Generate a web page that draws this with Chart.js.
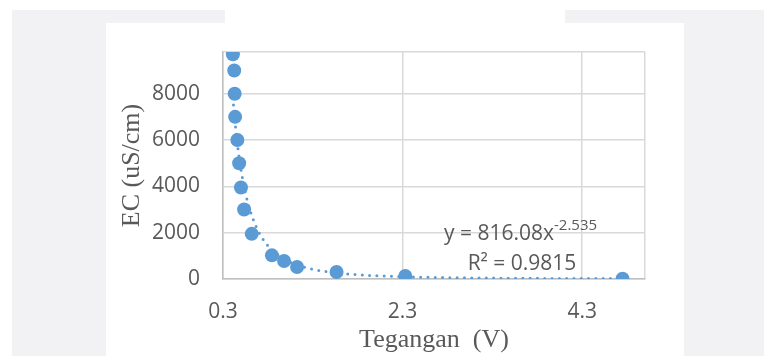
<!DOCTYPE html>
<html><head><meta charset="utf-8">
<script src="https://cdn.jsdelivr.net/npm/chart.js@4/dist/chart.umd.min.js"></script>
<style>html,body{margin:0;padding:0;background:#fff;overflow:hidden}canvas{display:block}</style>
</head><body>
<canvas id="c" width="764" height="356"></canvas>
<script>
// ---- data ----
const voltage = [0.41, 0.425, 0.43, 0.435, 0.46, 0.48, 0.50, 0.535, 0.62, 0.845, 0.98, 1.125, 1.565, 2.33, 4.75];
const ec      = [9700, 9000, 8000, 7000, 6000, 5000, 3950, 3000, 1950, 1020, 780, 520, 300, 130, 10];
const xTickValues = [0.3, 2.3, 4.3];
const yTickValues = [0, 2000, 4000, 6000, 8000];
const xRange = [0.3, 5.0];
const yRange = [0, 9800];
// trendline shown on the chart: y = 816.08 x^-2.535, R² = 0.9815
const trendCoef = 816.08;
const trendExp = -2.535;
const rSquared = '0.9815';
const xTitle = 'Tegangan  (V)';
const yTitle = 'EC (uS/cm)';

const points = voltage.map((v, i) => ({x: v, y: ec[i]}));
const tMin = Math.min(...voltage), tMax = Math.max(...voltage);
const trend = [];
for (let i = 0; i <= 300; i++) {
  const x = tMin * Math.pow(tMax / tMin, i / 300);
  trend.push({x, y: trendCoef * Math.pow(x, trendExp)});
}

const BLUE = '#5b9bd5';
const TXT = '#595959';
const SANS = '"Open Sans", "Liberation Sans", sans-serif';
const SERIF = '"Liberation Serif", "DejaVu Serif", serif';

const bgPlugin = {
  id: 'bg',
  beforeDraw(chart) {
    const c = chart.ctx;
    c.save();
    c.fillStyle = '#ffffff'; c.fillRect(0, 0, 764, 356);
    c.fillStyle = '#f2f2f4'; c.fillRect(12, 10, 752, 346);
    c.fillStyle = '#ffffff'; c.fillRect(106, 23, 578, 333);
    c.fillRect(225, 0, 340, 23);
    c.restore();
  }
};
const textPlugin = {
  id: 'texts',
  afterDraw(chart) {
    const c = chart.ctx, a = chart.chartArea;
    c.save();
    c.fillStyle = TXT;
    // axis titles
    c.font = '26px ' + SERIF;
    c.textAlign = 'center'; c.textBaseline = 'middle';
    c.fillText(xTitle, (a.left + a.right) / 2, 340);
    c.save();
    c.translate(132, (a.top + a.bottom) / 2);
    c.rotate(-Math.PI / 2);
    c.fillText(yTitle, 0, 0);
    c.restore();
    // trendline equation
    c.textAlign = 'left'; c.textBaseline = 'middle';
    c.font = '21px ' + SANS;
    const main = 'y = ' + trendCoef + 'x';
    const mx = 444;
    c.fillText(main, mx, 234);
    const w = c.measureText(main).width;
    c.font = '15px ' + SANS;
    c.fillText(String(trendExp), mx + w, 226);
    c.font = '21px ' + SANS;
    c.textAlign = 'center';
    c.fillText('R\u00b2 = ' + rSquared, 522, 264);
    c.restore();
  }
};

new Chart(document.getElementById('c'), {
  type: 'scatter',
  data: {
    datasets: [
      {
        label: 'Trend',
        data: trend,
        showLine: true,
        borderColor: BLUE,
        borderWidth: 3,
        borderDash: [0, 7.3],
        borderCapStyle: 'round',
        pointRadius: 0,
        pointHoverRadius: 0,
        fill: false,
        order: 0
      },
      {
        label: 'EC',
        data: points,
        backgroundColor: BLUE,
        borderWidth: 0,
        pointRadius: 7,
        pointHoverRadius: 7,
        order: 1
      }
    ]
  },
  options: {
    responsive: false,
    animation: false,
    events: [],
    layout: {padding: {top: 52, right: 119, left: 0, bottom: 0}},
    plugins: {legend: {display: false}, tooltip: {enabled: false}},
    scales: {
      x: {
        type: 'linear',
        min: xRange[0], max: xRange[1],
        afterBuildTicks: s => { s.ticks = [...xTickValues, xRange[1]].map(v => ({value: v})); },
        afterFit: s => { s.height = 77; },
        ticks: {
          padding: 20,
          color: TXT,
          font: {family: SANS, size: 21},
          maxRotation: 0,
          autoSkip: false,
          callback: v => xTickValues.includes(v) ? v.toFixed(1) : ''
        },
        grid: {color: '#d9d9d9', lineWidth: 1.5, drawTicks: false},
        border: {color: '#bfbfbf', width: 1.5}
      },
      y: {
        type: 'linear',
        min: yRange[0], max: yRange[1],
        afterBuildTicks: s => { s.ticks = [...yTickValues, yRange[1]].map(v => ({value: v})); },
        afterFit: s => { s.width = 223; },
        ticks: {
          padding: 23,
          color: TXT,
          font: {family: SANS, size: 21},
          autoSkip: false,
          callback: v => yTickValues.includes(v) ? String(v) : ''
        },
        grid: {color: '#d9d9d9', lineWidth: 1.5, drawTicks: false},
        border: {color: '#bfbfbf', width: 1.5}
      }
    }
  },
  plugins: [bgPlugin, textPlugin]
});
</script>
</body></html>
